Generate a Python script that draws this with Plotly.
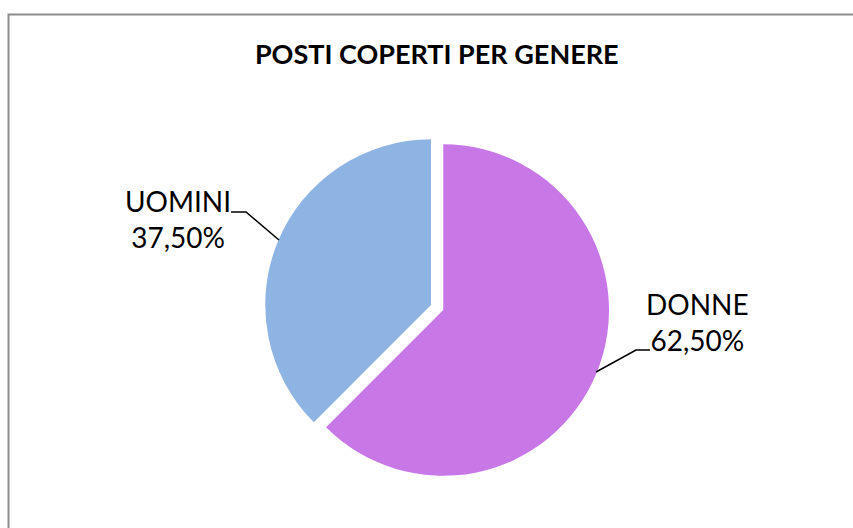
import plotly.graph_objects as go

W, H = 853, 528

labels = ["DONNE", "UOMINI"]
values = [62.5, 37.5]
colors = ["#C877E6", "#8EB4E3"]


def px_x(x):
    return x / W


def px_y(y):
    return 1 - y / H


fig = go.Figure(go.Pie(
    labels=labels,
    values=values,
    sort=False,
    direction="clockwise",
    rotation=0,
    pull=[0.08, 0],
    marker=dict(colors=colors, line=dict(width=0)),
    textinfo="none",
    hoverinfo="label+percent",
    domain=dict(x=[px_x(252), px_x(610)], y=[px_y(484), px_y(126)]),
    showlegend=False,
))

font = "Lato, 'Open Sans', sans-serif"


def pct(v):
    return f"{v / sum(values) * 100:.2f}%".replace(".", ",")


# label text and leader lines (Excel style)
label_pos = {
    "UOMINI": dict(x=178, y=219, line=[(231, 212), (246, 212), (279, 240)]),
    "DONNE": dict(x=697, y=322, line=[(650, 350), (636, 350), (596, 372)]),
}

for name, v in zip(labels, values):
    p = label_pos[name]
    fig.add_annotation(
        x=px_x(p["x"]), y=px_y(p["y"]), xref="paper", yref="paper",
        text=f"{name}<br>{pct(v)}", showarrow=False,
        font=dict(family=font, size=28, color="#000000"),
        align="center", xanchor="center", yanchor="middle",
    )
    pts = p["line"]
    path = "M " + " L ".join(f"{px_x(x)},{px_y(y)}" for x, y in pts)
    fig.add_shape(type="path", path=path, xref="paper", yref="paper",
                  line=dict(color="#000000", width=1.5))

# chart area border
fig.add_shape(type="rect", xref="paper", yref="paper",
              x0=px_x(8.5), x1=1.2, y0=-0.2, y1=px_y(14.5),
              line=dict(color="#8C8C8C", width=2), fillcolor="rgba(0,0,0,0)")

fig.update_layout(
    width=W, height=H,
    title=dict(text="<b>POSTI COPERTI PER GENERE</b>", x=0.512, xanchor="center",
               y=px_y(55), yanchor="middle",
               font=dict(family=font, size=27, color="#000000")),
    margin=dict(l=0, r=0, t=0, b=0),
    paper_bgcolor="white",
    plot_bgcolor="white",
)

# the page has a default body margin; drop it so the figure sits at 0,0
fig.write_html("out.html", config={"displayModeBar": False},
               post_script="document.body.style.margin='0';")
